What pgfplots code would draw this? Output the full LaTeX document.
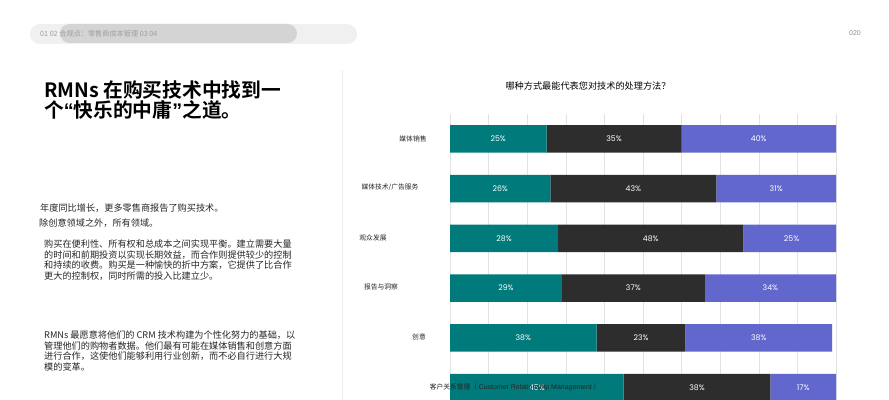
\documentclass[border=0pt]{standalone}
\usepackage{pgfplots}
\pgfplotsset{compat=1.18}
\usepackage{pgfplotstable}
\usepackage{fontspec}
\setmainfont{Noto Sans CJK SC}
\newfontfamily\cjk{Noto Sans CJK SC}
\newfontfamily\cjkb{Noto Sans CJK SC Bold}
\newfontfamily\pct{Poppins}
\newfontfamily\lat{Liberation Sans}
\definecolor{cteal}{HTML}{007A7A}
\definecolor{cdark}{HTML}{2D2D2D}
\definecolor{cblue}{HTML}{6267CE}
\definecolor{cgrid}{HTML}{E2E2E2}
\tikzset{pl/.style={text=white, font=\pct\fontsize{7.8}{9}\selectfont, inner sep=0pt}}
\pgfplotstableread{
y a b c
0 25 35 40
1 26 43 31
2 28 48 25
3 29 37 34
4 38 23 38
5 45 38 17
}\datatable
\begin{document}
\begin{tikzpicture}
\path[use as bounding box, fill=white] (0bp,0bp) rectangle (889bp,400bp);
% header pill
\fill[black!6, rounded corners=10bp] (30bp,356bp) rectangle (357bp,376bp);
\fill[black!17, rounded corners=9.5bp] (60bp,357bp) rectangle (297bp,376bp);
\node[anchor=west, text=black!38, font=\cjk\fontsize{7.2}{8}\selectfont, inner sep=0pt] at (40bp,366bp) {01 02 合规点：零售商成本管理 03 04};
\node[text=black!45, font=\lat\fontsize{7}{8}\selectfont, inner sep=0pt] at (855bp,367bp) {020};
% separator
\draw[black!7, line width=0.8bp] (342bp,330bp) -- (342bp,0bp);
% title
\node[anchor=west, font=\cjkb\fontsize{19.8}{20}\selectfont, inner sep=0pt] at (44bp,310bp) {RMNs 在购买技术中找到一};
\node[anchor=west, font=\cjkb\fontsize{19.8}{20}\selectfont, inner sep=0pt] at (44bp,290bp) {个{\lat\bfseries “}快乐的中庸{\lat\bfseries ”}之道。};
% paragraphs
\begin{scope}[every node/.style={anchor=west, inner sep=0pt, font=\cjk\fontsize{9.2}{10}\selectfont, text=black!85}]
\node at (40bp,192bp) {年度同比增长，更多零售商报告了购买技术。};
\node at (39bp,177bp) {除创意领域之外，所有领域。};
\node at (44bp,156bp) {购买在便利性、所有权和总成本之间实现平衡。建立需要大量};
\node at (44bp,145.3bp) {的时间和前期投资以实现长期效益，而合作则提供较少的控制};
\node at (44bp,134.6bp) {和持续的收费。购买是一种愉快的折中方案，它提供了比合作};
\node at (44bp,123.9bp) {更大的控制权，同时所需的投入比建立少。};
\node at (44bp,65bp) {RMNs 最愿意将他们的 CRM 技术构建为个性化努力的基础，以};
\node at (44bp,54.3bp) {管理他们的购物者数据。他们最有可能在媒体销售和创意方面};
\node at (44bp,43.6bp) {进行合作，这使他们能够利用行业创新，而不必自行进行大规};
\node at (44bp,32.9bp) {模的变革。};
\end{scope}
% chart title
\node[font=\cjk\fontsize{9.2}{10}\selectfont, inner sep=0pt] at (588bp,314bp) {哪种方式最能代表您对技术的处理方法？};
\begin{axis}[
  at={(450bp,0bp)}, anchor=south west,
  width=386bp, height=286bp, scale only axis,
  xbar stacked, bar width=27.5bp,
  xmin=0, xmax=100, ymin=-0.5, ymax=5.25, y dir=reverse,
  xtick={0,10,...,100}, xticklabels={}, ytick=\empty,
  xmajorgrids, grid style={cgrid, line width=0.6bp},
  axis line style={draw=none}, tick style={draw=none},
]
\addplot[fill=cteal, draw=none] table[x=a, y=y] {\datatable};
\addplot[fill=cdark, draw=none] table[x=b, y=y] {\datatable};
\addplot[fill=cblue, draw=none] table[x=c, y=y] {\datatable};
\coordinate (a0) at (axis cs:12.5,0);
\coordinate (b0) at (axis cs:42.5,0);
\coordinate (c0) at (axis cs:80,0);
\coordinate (a1) at (axis cs:13,1);
\coordinate (b1) at (axis cs:47.5,1);
\coordinate (c1) at (axis cs:84.5,1);
\coordinate (a2) at (axis cs:14,2);
\coordinate (b2) at (axis cs:52,2);
\coordinate (c2) at (axis cs:88.5,2);
\coordinate (a3) at (axis cs:14.5,3);
\coordinate (b3) at (axis cs:47.5,3);
\coordinate (c3) at (axis cs:83,3);
\coordinate (a4) at (axis cs:19,4);
\coordinate (b4) at (axis cs:49.5,4);
\coordinate (c4) at (axis cs:80,4);
\coordinate (a5) at (axis cs:22.5,5);
\coordinate (b5) at (axis cs:64,5);
\coordinate (c5) at (axis cs:91.5,5);
\end{axis}
\node[pl] at (a0) {25\%};
\node[pl] at (b0) {35\%};
\node[pl] at (c0) {40\%};
\node[pl] at (a1) {26\%};
\node[pl] at (b1) {43\%};
\node[pl] at (c1) {31\%};
\node[pl] at (a2) {28\%};
\node[pl] at (b2) {48\%};
\node[pl] at (c2) {25\%};
\node[pl] at (a3) {29\%};
\node[pl] at (b3) {37\%};
\node[pl] at (c3) {34\%};
\node[pl] at (a4) {38\%};
\node[pl] at (b4) {23\%};
\node[pl] at (c4) {38\%};
\node[pl] at (a5) {45\%};
\node[pl] at (b5) {38\%};
\node[pl] at (c5) {17\%};
% category labels
\begin{scope}[every node/.style={inner sep=0pt, font=\cjk\fontsize{6.8}{8}\selectfont, text=black!85}]
\node at (413bp,261bp) {媒体销售};
\node at (390bp,213bp) {媒体技术/广告服务};
\node at (373bp,162bp) {观众发展};
\node at (381bp,113bp) {报告与洞察};
\node at (419bp,63bp) {创意};
\node at (515bp,13bp) {客户关系管理（ {\lat\fontsize{7}{8}\selectfont Customer Relationship Management} ）};
\end{scope}
\end{tikzpicture}
\end{document}
